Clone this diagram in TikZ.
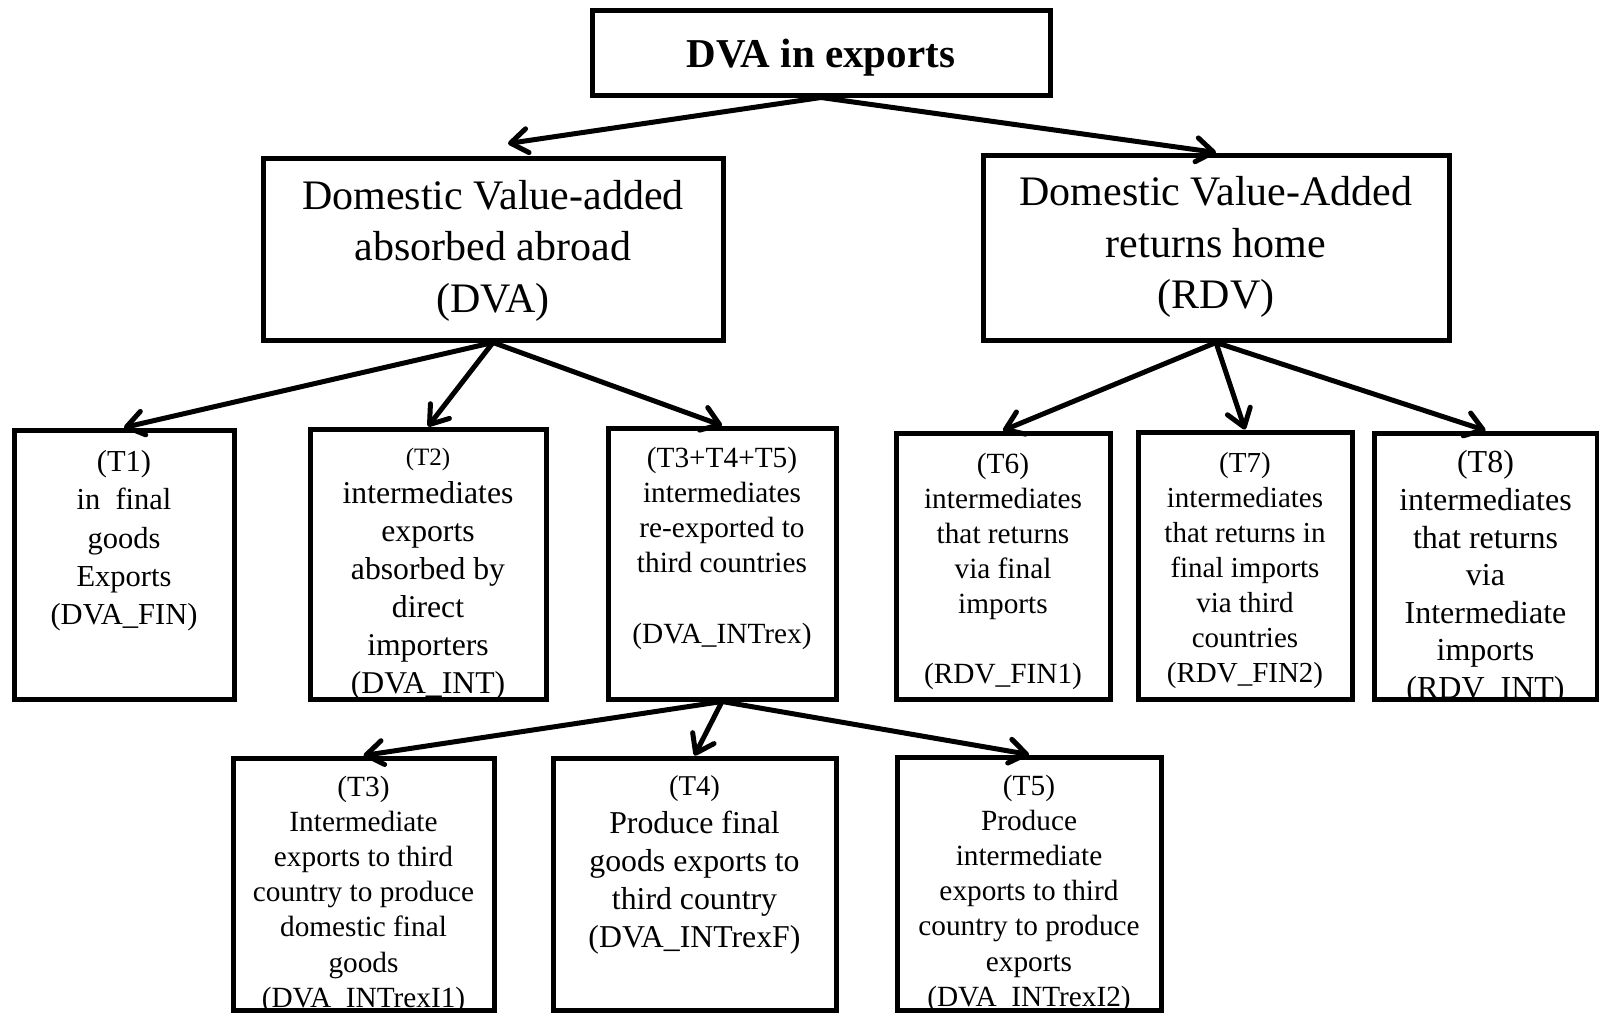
\documentclass[tikz,border=0pt]{standalone}
\usepackage{fontspec}
\setmainfont{Liberation Serif}
\usetikzlibrary{arrows.meta}
\newcommand\myfs[2]{\fontsize{#1pt}{#2pt}\selectfont}
\begin{document}
\begin{tikzpicture}[x=1pt,y=-1pt,
  box/.style={draw, line width=5pt, inner sep=0pt},
  txt/.style={align=center, inner sep=0pt, anchor=north},
  arr/.style={line width=5pt, line cap=round, -{Straight Barb[length=17pt,width=24pt,round]}}]
\useasboundingbox (0,0) rectangle (1599,1015);

% top level
\node[box, minimum width=458pt, minimum height=85pt] (top) at (821,52.5) {};
\node[anchor=base, inner sep=0pt, font=\bfseries\myfs{41}{49}] (toptxt) at (821,67) {DVA in exports};

% second level
\node[box, minimum width=460pt, minimum height=182pt] (dva) at (493,249) {};
\node[txt, font=\myfs{42}{51.5}] (dvatxt) at (493,180) {Domestic Value-added\\absorbed abroad\\(DVA)};
\node[box, minimum width=466pt, minimum height=185pt] (rdv) at (1216,247.5) {};
\node[txt, font=\myfs{42}{51.5}] (rdvtxt) at (1216,176.6) {Domestic Value-Added\\returns home\\(RDV)};

% third and fourth level boxes
\node[box, minimum width=220pt, minimum height=269pt] (t1) at (124,564.5) {};
\node[box, minimum width=236pt, minimum height=270pt] (t2) at (428,564) {};
\node[box, minimum width=228pt, minimum height=271pt] (t345) at (722,563.5) {};
\node[box, minimum width=214pt, minimum height=266pt] (t6) at (1003,566) {};
\node[box, minimum width=214pt, minimum height=267pt] (t7) at (1245,565.5) {};
\node[box, minimum width=223pt, minimum height=266pt] (t8) at (1485.5,566) {};
\node[box, minimum width=261pt, minimum height=252pt] (t3) at (363.5,884) {};
\node[box, minimum width=283pt, minimum height=252pt] (t4) at (694.5,884) {};
\node[box, minimum width=264pt, minimum height=253pt] (t5) at (1029,883.5) {};

% texts, clipped to their boxes
\begin{scope}\clip (t1.south west) rectangle (t1.north east);
\node[txt, font=\myfs{30.5}{38.4}] (t1txt) at (124,450)
  {(T1)\\in~~final\\goods\\Exports\\(DVA\_FIN)};
\end{scope}
\begin{scope}\clip (t2.south west) rectangle (t2.north east);
\node[txt, font=\myfs{31.7}{38}] (t2txt) at (428,448)
  {{\myfs{25}{38}(T2)}\\intermediates\\exports\\absorbed by\\direct\\importers\\(DVA\_INT)};
\end{scope}
\begin{scope}\clip (t345.south west) rectangle (t345.north east);
\node[txt, font=\myfs{29.3}{35.2}] (t345txt) at (722,446.6)
  {(T3+T4+T5)\\intermediates\\re-exported to\\third countries\\[35.2pt](DVA\_INTrex)};
\end{scope}
\begin{scope}\clip (t6.south west) rectangle (t6.north east);
\node[txt, font=\myfs{29.3}{35}] (t6txt) at (1003,452.6)
  {(T6)\\intermediates\\that returns\\via final\\imports\\[35pt](RDV\_FIN1)};
\end{scope}
\begin{scope}\clip (t7.south west) rectangle (t7.north east);
\node[txt, font=\myfs{29}{35}] (t7txt) at (1245,451.7)
  {(T7)\\intermediates\\that returns in\\final imports\\via third\\countries\\(RDV\_FIN2)};
\end{scope}
\begin{scope}\clip (t8.south west) rectangle (t8.north east);
\node[txt, font=\myfs{32}{37.6}] (t8txt) at (1485.5,450.5)
  {(T8)\\intermediates\\that returns\\via\\Intermediate\\imports\\(RDV\_INT)};
\end{scope}
\begin{scope}\clip (t3.south west) rectangle (t3.north east);
\node[txt, font=\myfs{29.3}{35.2}] (t3txt) at (363.5,775.6)
  {(T3)\\Intermediate\\exports to third\\country to produce\\domestic final\\goods\\(DVA\_INTrexI1)};
\end{scope}
\begin{scope}\clip (t4.south west) rectangle (t4.north east);
\node[txt, font=\myfs{31.8}{38}] (t4txt) at (694.5,775.5)
  {{\myfs{28.7}{38}(T4)}\\Produce final\\goods exports to\\third country\\(DVA\_INTrexF)};
\end{scope}
\begin{scope}\clip (t5.south west) rectangle (t5.north east);
\node[txt, font=\myfs{29.3}{35.2}] (t5txt) at (1029,774.6)
  {(T5)\\Produce\\intermediate\\exports to third\\country to produce\\exports\\(DVA\_INTrexI2)};
\end{scope}

% connectors
\draw[arr] (top.south) -- ([xshift=15pt,yshift=12pt]dva.north);
\draw[arr] (top.south) -- (rdv.north);
\foreach \c in {t1,t2,t345} \draw[arr] (dva.south) -- (\c.north);
\foreach \c in {t6,t7,t8} \draw[arr] (rdv.south) -- (\c.north);
\foreach \c in {t3,t4,t5} \draw[arr] (t345.south) -- (\c.north);
\end{tikzpicture}
\end{document}
